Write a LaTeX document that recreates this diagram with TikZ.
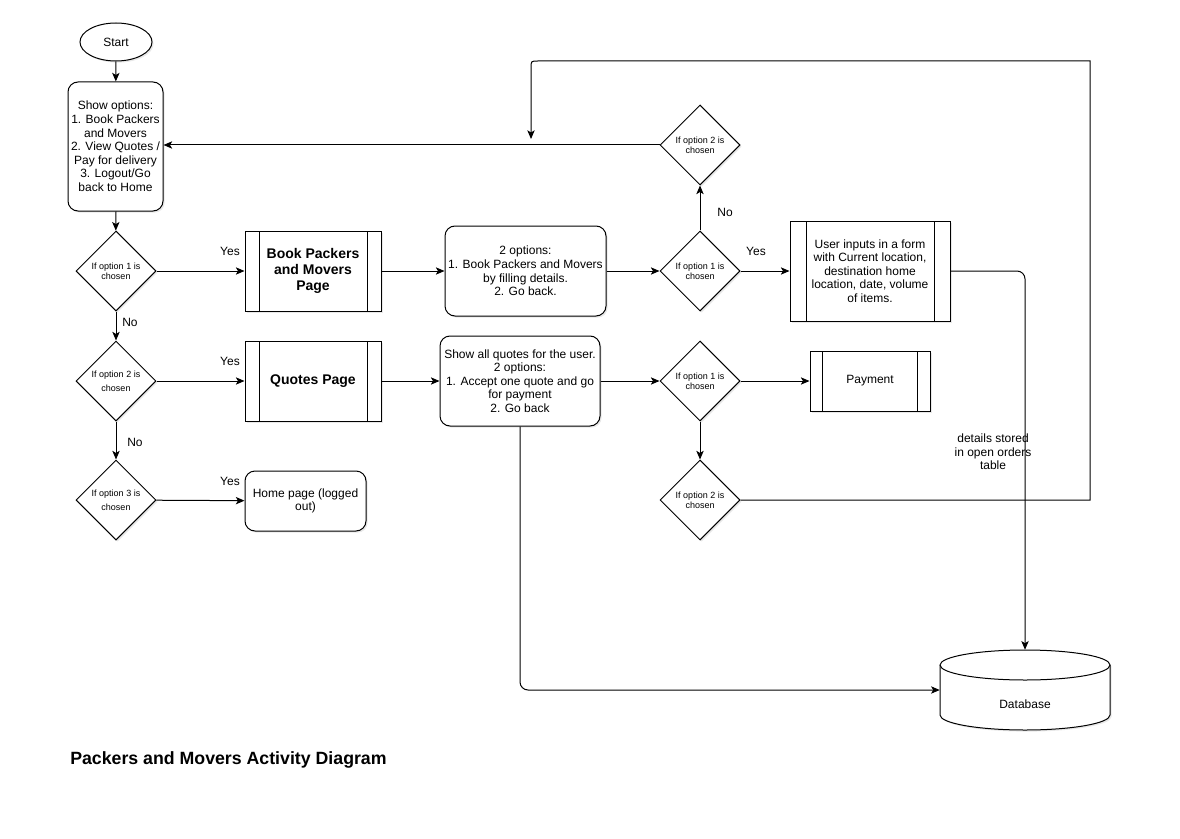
\documentclass[tikz,border=0pt]{standalone}
\usepackage{fontspec}
\setmainfont{Liberation Sans}
\usetikzlibrary{shapes.geometric,arrows.meta,shadows}

\begin{document}
\begin{tikzpicture}[x=0.75pt,y=-0.75pt,
  every node/.style={font=\fontsize{9}{10.2}\selectfont, align=center},
  softshadow/.style={drop shadow={opacity=0.18,shadow xshift=1.2pt,shadow yshift=-1.2pt}},
  roundbox/.style={draw, fill=white, rounded corners=7.5pt, line width=0.75pt, inner sep=0pt, softshadow},
  decision/.style={draw, fill=white, diamond, aspect=1, minimum width=60pt, minimum height=60pt,
    inner sep=0pt, line width=0.75pt, softshadow, font=\fontsize{6.75}{7.6}\selectfont},
  widedecision/.style={decision, font=\fontsize{6.75}{10.5}\selectfont},
  subproc/.style={draw, fill=white, rectangle, line width=0.75pt, inner sep=0pt, softshadow,
    path picture={\draw[line width=0.75pt]
      ([xshift=#1]path picture bounding box.north west) -- ([xshift=#1]path picture bounding box.south west)
      ([xshift=-#1]path picture bounding box.north east) -- ([xshift=-#1]path picture bounding box.south east);}},
  pagetitle/.style={font=\bfseries\fontsize{10.5}{12}\selectfont},
  flow/.style={-{Stealth[length=6.5pt,width=5.5pt,inset=1.6pt]}, line width=0.75pt},
  tag/.style={font=\fontsize{9}{10.2}\selectfont}
]
\fill[white] (0,0) rectangle (1180,838);
\useasboundingbox (0,0) rectangle (1180,838);

% start and main menu
\node[ellipse, draw, fill=white, minimum width=54pt, minimum height=28.5pt, inner sep=0pt,
  line width=0.75pt, softshadow] (start) at (116,42) {Start};
\node[roundbox, minimum width=71.25pt, minimum height=96.75pt] (menu) at (115.5,146.5)
  {Show options:\\1. Book Packers\\and Movers\\2. View Quotes /\\Pay for delivery\\3. Logout/Go\\back to Home};

% menu decisions
\node[decision] (d1) at (116,271) {If option 1 is\\chosen};
\node[widedecision] (d2) at (116,381) {If option 2 is\\chosen};
\node[widedecision] (d3) at (116,500) {If option 3 is\\chosen};

% pages
\node[subproc=10.5pt, minimum width=102pt, minimum height=60pt, pagetitle] (book) at (313,271)
  {Book Packers\\and Movers\\Page};
\node[subproc=10.5pt, minimum width=102pt, minimum height=60pt, pagetitle] (quotes) at (313,381)
  {Quotes Page};
\node[roundbox, minimum width=90.75pt, minimum height=45pt] (home) at (305.5,501)
  {Home page (logged\\out)};

% page contents
\node[roundbox, minimum width=120.75pt, minimum height=67.5pt] (opts) at (525.5,271)
  {2 options:\\1. Book Packers and Movers\\by filling details.\\2. Go back.};
\node[roundbox, minimum width=120pt, minimum height=67.5pt] (quotesall) at (520,381)
  {Show all quotes for the user.\\2 options:\\1. Accept one quote and go\\for payment\\2. Go back};

% right hand decisions
\node[decision] (d5) at (700,145) {If option 2 is\\chosen};
\node[decision] (d4) at (700,271) {If option 1 is\\chosen};
\node[decision] (d6) at (700,381) {If option 1 is\\chosen};
\node[decision] (d7) at (700,500) {If option 2 is\\chosen};

% form and payment
\node[subproc=12pt, minimum width=120pt, minimum height=75pt] (form) at (870,271)
  {User inputs in a form\\with Current location,\\destination home\\location, date, volume\\of items.};
\node[subproc=9.4pt, minimum width=90pt, minimum height=45pt] (pay) at (870,381) {Payment};

% database cylinder
\node[minimum width=127.5pt, minimum height=60pt, inner sep=0pt] (db) at (1025,690) {};
\draw[fill=white, line width=0.75pt, softshadow]
  (940,665) -- (940,715)
  arc[start angle=180, end angle=360, x radius=63.75pt, y radius=11.25pt]
  -- (1110,665)
  arc[start angle=0, end angle=180, x radius=63.75pt, y radius=11.25pt] -- cycle;
\draw[line width=0.75pt] (940,665) arc[start angle=180, end angle=360, x radius=63.75pt, y radius=11.25pt];
\node (dbtext) at (1025,704) {Database};

% connectors
\draw[flow] (start) -- (menu);
\draw[flow] (menu) -- (d1);
\draw[flow] (d1) -- (d2);
\draw[flow] (d2) -- (d3);
\draw[flow] (d1) -- (book);
\draw[flow] (d2) -- (quotes);
\draw[flow] (d3) -- (home);
\draw[flow] (book) -- (opts);
\draw[flow] (opts) -- (d4);
\draw[flow] (quotes) -- (quotesall);
\draw[flow] (quotesall) -- (d6);
\draw[flow] (d6) -- (pay);
\draw[flow] (d6) -- (d7);
\draw[flow] (d4) -- (d5);
\draw[flow] (d4) -- (form);
\draw[flow] (d5.west) -- (d5.west -| menu.east);
\draw[flow, rounded corners=6pt] (form.east) -| (db.north);
\draw[flow, rounded corners=6pt] (quotesall.south) |- (db.west);
\coordinate (loopend) at (531,139);
\draw[flow] (d7.east) -- (1090,500) -- (1090,61) -- (538,61)
  .. controls (531,61) .. (531,68) -- (loopend);

% branch labels
\node[tag] (y1) at (230,251) {Yes};
\node[tag] (y2) at (230,361) {Yes};
\node[tag] (y3) at (230,481) {Yes};
\node[tag] (n1) at (130,322) {No};
\node[tag] (n2) at (135,442) {No};
\node[tag] (n3) at (725,212) {No};
\node[tag] (y4) at (756,251) {Yes};
\node[tag] (stored) at (993,452) {details stored\\in open orders\\table};

% title
\node[font=\bfseries\fontsize{13.3}{15}\selectfont, anchor=west, inner sep=0pt] (title) at (70,760)
  {Packers and Movers Activity Diagram};
\end{tikzpicture}
\end{document}
